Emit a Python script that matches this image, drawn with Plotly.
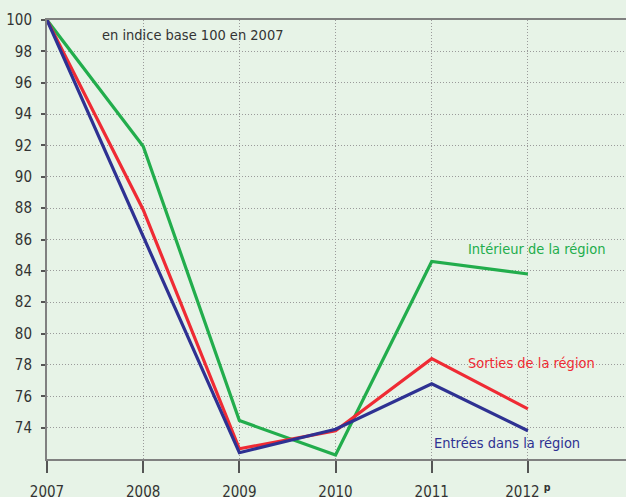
import plotly.graph_objects as go

years = [2007, 2008, 2009, 2010, 2011, 2012]
year_labels = ["2007", "2008", "2009", "2010", "2011", "2012 <sup><b>p</b></sup>"]
interieur = [100, 91.95, 74.45, 72.25, 84.6, 83.8]
sorties = [100, 87.9, 72.65, 73.8, 78.4, 75.2]
entrees = [100, 86.2, 72.4, 73.9, 76.8, 73.8]
y_ticks = [74, 76, 78, 80, 82, 84, 86, 88, 90, 92, 94, 96, 98, 100]

FONT = "DejaVu Sans Condensed, Liberation Sans Narrow, sans-serif"
GREEN = "#22ad4c"
RED = "#ef2b34"
BLUE = "#2e3192"
BG = "#e7f3e7"
FS = 14.5

fig = go.Figure()
for name, vals, col in [("Intérieur de la région", interieur, GREEN),
                        ("Sorties de la région", sorties, RED),
                        ("Entrées dans la région", entrees, BLUE)]:
    fig.add_trace(go.Scatter(x=years, y=vals, mode="lines", name=name,
                             line=dict(color=col, width=3.2), showlegend=False))

annotations = [
    dict(x=2007.55, y=99.05, text="en indice base 100 en 2007", color="#333333"),
    dict(x=2011.36, y=85.4, text="Intérieur de la région", color=GREEN),
    dict(x=2011.36, y=78.1, text="Sorties de la région", color=RED),
    dict(x=2011.0, y=73.0, text="Entrées dans la région", color=BLUE),
]
for a in annotations:
    fig.add_annotation(x=a["x"], y=a["y"], text=a["text"], showarrow=False,
                       xanchor="left", yanchor="middle",
                       font=dict(family=FONT, size=FS, color=a["color"]))

fig.update_layout(
    width=626, height=497,
    margin=dict(l=47, r=0, t=20, b=38, autoexpand=False),
    paper_bgcolor=BG, plot_bgcolor=BG,
    font=dict(family=FONT, size=FS, color="#333333"),
    xaxis=dict(range=[2007, 2013.02], tickvals=years, ticktext=year_labels,
               showgrid=True, gridcolor="#9a9a9a", griddash="1px,2px", gridwidth=1,
               zeroline=False, showline=True, linecolor="#808080", linewidth=2,
               mirror=True, ticks="outside", ticklen=12, tickcolor="#555555",
               tickwidth=1.5, automargin=False, ticklabelstandoff=6,
               tickfont=dict(size=15, color="#333333")),
    yaxis=dict(range=[72, 100], tickvals=y_ticks, automargin=False,
               showgrid=True, gridcolor="#9a9a9a", griddash="1px,2px", gridwidth=1,
               zeroline=False, showline=True, linecolor="#808080", linewidth=2,
               ticks="outside", ticklen=4, tickcolor="#555555", tickwidth=1.5,
               ticklabelstandoff=6,
               tickfont=dict(size=15, color="#333333")),
)

fig.write_html("out.html", config={"displayModeBar": False},
               post_script="document.body.style.margin='0';document.body.style.overflow='hidden';")
